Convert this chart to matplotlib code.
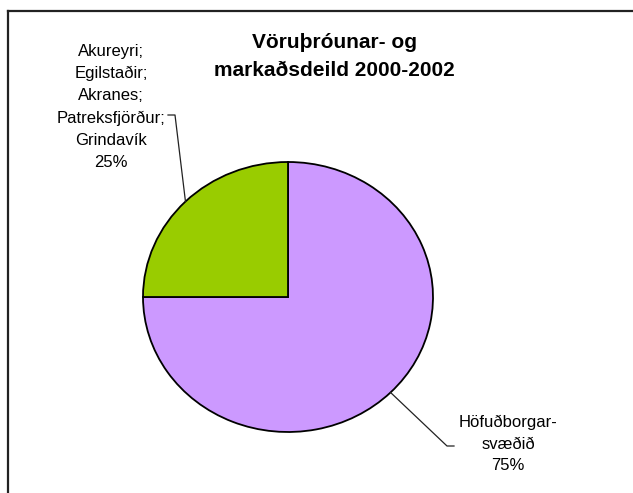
import matplotlib
matplotlib.use('Agg')
import matplotlib.pyplot as plt
import numpy as np
from matplotlib.lines import Line2D

plt.rcParams['font.family'] = ['Liberation Sans', 'DejaVu Sans']

# Data
labels = ['Höfuðborgar-\nsvæðið', 'Akureyri;\nEgilstaðir;\nAkranes;\nPatreksfjörður;\nGrindavík']
shares = [75, 25]
colors = ['#CC99FF', '#99CC00']
title = 'Vöruþróunar- og\nmarkaðsdeild 2000-2002'

W, H = 633, 493
cx, cy = 288, 297          # pie centre in pixels (from top)
rx, ry = 145, 135          # pie radii in pixels

fig = plt.figure(figsize=(W / 100, H / 100), dpi=100)
ax = fig.add_axes([0, 0, 1, 1])

wedges, _ = ax.pie(shares, colors=colors, startangle=90, counterclock=False,
                   wedgeprops=dict(edgecolor='black', linewidth=1.3))
ax.set_aspect('auto')
ax.set_xlim(-cx / rx, (W - cx) / rx)
ax.set_ylim(-(H - cy) / ry, cy / ry)
ax.axis('off')


def px(x, y):
    """pixel position (from top-left) -> data coordinates"""
    return (x - cx) / rx, (cy - y) / ry


# leader lines from wedge midpoints to the labels
elbows = [(447, 446, 454), (175, 115, 168)]
for w, (ex, ey, tx) in zip(wedges, elbows):
    ang = np.deg2rad((w.theta1 + w.theta2) / 2)
    x0, y0 = np.cos(ang), np.sin(ang)
    x1, y1 = px(ex, ey)
    x2, _ = px(tx, ey)
    ax.plot([x0, x1, x2], [y0, y1, y1], color='#222222', lw=0.9)

# labels
label_pos = [(508, 444, 1.55), (111, 107, 1.6)]
for lab, s, (lx, ly, sp) in zip(labels, shares, label_pos):
    x, y = px(lx, ly)
    ax.text(x, y, f'{lab}\n{s}%', ha='center', va='center', fontsize=12,
            linespacing=sp)

# title
tx, ty = px(334, 56)
ax.text(tx, ty, title, ha='center', va='center', fontsize=15,
        fontweight='bold', linespacing=1.6)

# chart-area frame (cut off at right and bottom)
fig.add_artist(Line2D([8 / W, 8 / W], [0, 1 - 11 / H], transform=fig.transFigure,
                      color='#222222', lw=1.6))
fig.add_artist(Line2D([8 / W, 1], [1 - 11 / H, 1 - 11 / H], transform=fig.transFigure,
                      color='#222222', lw=1.6))

fig.savefig('out.png', dpi=100)
